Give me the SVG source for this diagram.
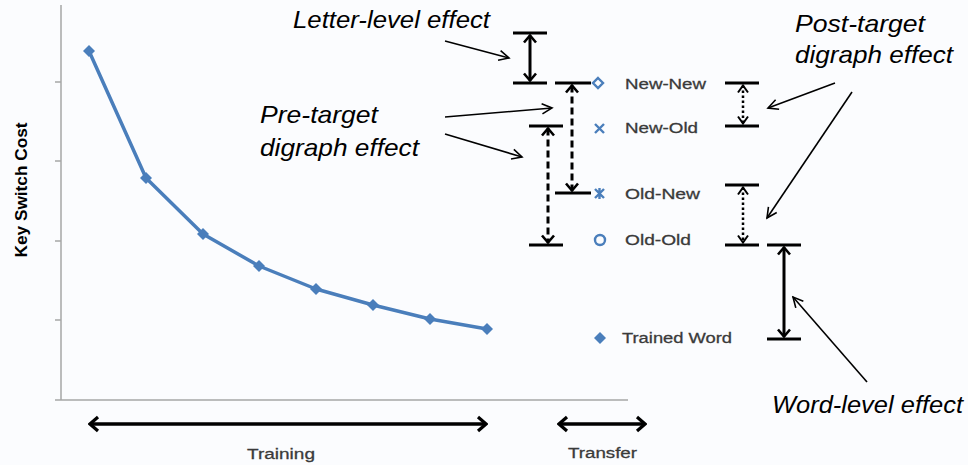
<svg xmlns="http://www.w3.org/2000/svg" width="968" height="465" viewBox="0 0 968 465">
  <style>
    .axis { stroke: #a6a6a6; stroke-width: 1.5; fill: none; }
    .series { stroke: #4a7ebb; stroke-width: 3.5; fill: none; stroke-linejoin: round; }
    .pt { fill: #4a7ebb; }
    .bar { stroke: #000; stroke-width: 3; fill: none; }
    .solid { stroke: #000; stroke-width: 3; fill: none; }
    .dashed { stroke: #000; stroke-width: 3; fill: none; stroke-dasharray: 7 4; }
    .dotted { stroke: #000; stroke-width: 2.5; fill: none; stroke-dasharray: 2.5 2.5; }
    .pointer { stroke: #000; stroke-width: 1.6; fill: none; }
    .span { stroke: #000; stroke-width: 3.5; fill: none; }
    .note { font-family: "Liberation Sans", Arial, sans-serif; font-style: italic; font-size: 24px; fill: #000; }
    .legend { font-family: "Liberation Sans", Arial, sans-serif; font-size: 15.5px; fill: #3a3a3a; stroke: #3a3a3a; stroke-width: 0.3; }
    .axlabel { font-family: "Liberation Sans", Arial, sans-serif; font-size: 15.5px; fill: #3a3a3a; stroke: #3a3a3a; stroke-width: 0.3; }
    .ylabel { font-family: "Liberation Sans", Arial, sans-serif; font-size: 16px; font-weight: bold; fill: #000; }
    .mk { stroke: #4a7ebb; stroke-width: 2.4; fill: none; }
  </style>
  <defs>
    <marker id="chev" viewBox="-10 -8 12 16" markerWidth="12" markerHeight="16" refX="0" refY="0" orient="auto-start-reverse" markerUnits="userSpaceOnUse">
      <path d="M -7 -6 L 0 0 L -7 6" fill="none" stroke="#000" stroke-width="2.6"/>
    </marker>
    <marker id="chevThin" viewBox="-10 -8 12 16" markerWidth="12" markerHeight="16" refX="0" refY="0" orient="auto-start-reverse" markerUnits="userSpaceOnUse">
      <path d="M -7 -5 L 0 0 L -7 5" fill="none" stroke="#000" stroke-width="2"/>
    </marker>
    <marker id="ptr" viewBox="-12 -8 14 16" markerWidth="14" markerHeight="16" refX="0" refY="0" orient="auto" markerUnits="userSpaceOnUse">
      <path d="M -10 -5 L 0 0 L -10 5" fill="none" stroke="#000" stroke-width="1.6"/>
    </marker>
    <marker id="spanHead" viewBox="-12 -9 14 18" markerWidth="14" markerHeight="18" refX="0" refY="0" orient="auto-start-reverse" markerUnits="userSpaceOnUse">
      <path d="M -8 -7 L 0 0 L -8 7" fill="none" stroke="#000" stroke-width="3.2"/>
    </marker>
    <path id="dia" d="M 0 -6 L 6 0 L 0 6 L -6 0 Z"/>
  </defs>

  <rect width="968" height="465" fill="#fbfcfe"/>

  <!-- chart axes -->
  <g id="axes">
    <path class="axis" d="M 61 5 V 400 M 55 400 H 628"/>
    <path class="axis" d="M 55 82 H 61 M 55 161 H 61 M 55 241 H 61 M 55 320 H 61"/>
    <text class="ylabel" transform="translate(27 190) rotate(-90)" text-anchor="middle" textLength="135" lengthAdjust="spacingAndGlyphs">Key Switch Cost</text>
  </g>

  <!-- training curve -->
  <g id="training-series">
    <polyline class="series" points="89,51 146,178 203,234 259,266 316,289 373,305 430,319 487,329"/>
    <use href="#dia" class="pt" x="89" y="51"/>
    <use href="#dia" class="pt" x="146" y="178"/>
    <use href="#dia" class="pt" x="203" y="234"/>
    <use href="#dia" class="pt" x="259" y="266"/>
    <use href="#dia" class="pt" x="316" y="289"/>
    <use href="#dia" class="pt" x="373" y="305"/>
    <use href="#dia" class="pt" x="430" y="319"/>
    <use href="#dia" class="pt" x="487" y="329"/>
  </g>

  <!-- transfer conditions -->
  <g id="new-new">
    <path class="mk" d="M 598 78 L 603 83 L 598 88 L 593 83 Z"/>
    <text class="legend" x="625" y="89" textLength="81" lengthAdjust="spacingAndGlyphs">New-New</text>
  </g>
  <g id="new-old">
    <path class="mk" d="M 595 124 L 604 133 M 604 124 L 595 133"/>
    <text class="legend" x="625" y="133" textLength="73" lengthAdjust="spacingAndGlyphs">New-Old</text>
  </g>
  <g id="old-new">
    <path class="mk" d="M 595 189 L 604 198 M 604 189 L 595 198 M 599.5 188 V 199"/>
    <text class="legend" x="625" y="199" textLength="75" lengthAdjust="spacingAndGlyphs">Old-New</text>
  </g>
  <g id="old-old">
    <circle class="mk" cx="600" cy="240" r="5"/>
    <text class="legend" x="625" y="245" textLength="66" lengthAdjust="spacingAndGlyphs">Old-Old</text>
  </g>
  <g id="trained-word">
    <use href="#dia" class="pt" x="600" y="338"/>
    <text class="legend" x="622" y="343" textLength="110" lengthAdjust="spacingAndGlyphs">Trained Word</text>
  </g>

  <!-- effect brackets -->
  <g id="letter-level-bar">
    <path class="bar" d="M 513 33 H 547 M 513 83 H 547"/>
    <line class="solid" x1="530" y1="35.5" x2="530" y2="80.5" marker-start="url(#chev)" marker-end="url(#chev)"/>
  </g>
  <g id="pretarget-bar-a">
    <path class="bar" d="M 555 83 H 591 M 555 193 H 591"/>
    <line class="dashed" x1="572" y1="85.5" x2="572" y2="190.5" marker-start="url(#chev)" marker-end="url(#chev)"/>
  </g>
  <g id="pretarget-bar-b">
    <path class="bar" d="M 529 126 H 563 M 529 245 H 563"/>
    <line class="dashed" x1="548" y1="128.5" x2="548" y2="242.5" marker-start="url(#chev)" marker-end="url(#chev)"/>
  </g>
  <g id="posttarget-bar-a">
    <path class="bar" d="M 725 83 H 759 M 725 126 H 759"/>
    <line class="dotted" x1="743" y1="85.5" x2="743" y2="123.5" marker-start="url(#chevThin)" marker-end="url(#chevThin)"/>
  </g>
  <g id="posttarget-bar-b">
    <path class="bar" d="M 725 185 H 759 M 725 245 H 759"/>
    <line class="dotted" x1="743" y1="187.5" x2="743" y2="242.5" marker-start="url(#chevThin)" marker-end="url(#chevThin)"/>
  </g>
  <g id="word-level-bar">
    <path class="bar" d="M 767 245 H 801 M 767 339 H 801"/>
    <line class="solid" x1="784" y1="247.5" x2="784" y2="336.5" marker-start="url(#chev)" marker-end="url(#chev)"/>
  </g>

  <!-- effect labels -->
  <g id="letter-level-label">
    <text class="note" x="293" y="28" textLength="197" lengthAdjust="spacingAndGlyphs">Letter-level effect</text>
  </g>
  <g id="pretarget-label">
    <text class="note" x="260" y="123" textLength="118" lengthAdjust="spacingAndGlyphs">Pre-target</text>
    <text class="note" x="260" y="156" textLength="159" lengthAdjust="spacingAndGlyphs">digraph effect</text>
  </g>
  <g id="posttarget-label">
    <text class="note" x="795" y="32" textLength="130" lengthAdjust="spacingAndGlyphs">Post-target</text>
    <text class="note" x="795" y="63" textLength="158" lengthAdjust="spacingAndGlyphs">digraph effect</text>
  </g>
  <g id="word-level-label">
    <text class="note" x="772" y="413" textLength="191" lengthAdjust="spacingAndGlyphs">Word-level effect</text>
  </g>

  <!-- pointers and phase spans -->
  <g id="connectors">
    <line class="pointer" x1="445" y1="41" x2="509" y2="58" marker-end="url(#ptr)"/>
    <line class="pointer" x1="445" y1="117" x2="552" y2="108" marker-end="url(#ptr)"/>
    <line class="pointer" x1="445" y1="134" x2="522" y2="157" marker-end="url(#ptr)"/>
    <line class="pointer" x1="835" y1="83" x2="768" y2="108" marker-end="url(#ptr)"/>
    <line class="pointer" x1="852" y1="92" x2="767" y2="218" marker-end="url(#ptr)"/>
    <line class="pointer" x1="867" y1="382" x2="793" y2="297" marker-end="url(#ptr)"/>
    <line class="span" x1="90" y1="424" x2="486" y2="424" marker-start="url(#spanHead)" marker-end="url(#spanHead)"/>
    <line class="span" x1="559" y1="424" x2="645" y2="424" marker-start="url(#spanHead)" marker-end="url(#spanHead)"/>
  </g>

  <g id="phase-labels">
    <text class="axlabel" x="247" y="459" textLength="68" lengthAdjust="spacingAndGlyphs">Training</text>
    <text class="axlabel" x="568" y="458" textLength="69" lengthAdjust="spacingAndGlyphs">Transfer</text>
  </g>
</svg>
